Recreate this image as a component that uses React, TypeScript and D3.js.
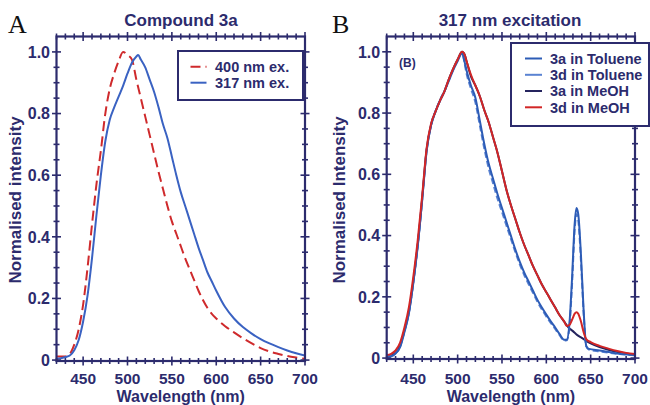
import React, { useEffect, useRef } from 'react';
import * as d3 from 'd3';

const WIDTH = 650;
const HEIGHT = 405;
const NAVY = '#2c2b6d';
const FONT = '"Liberation Sans", Arial, Helvetica, sans-serif';

// ---- Panel A: Compound 3a ----
const a400Wl = [420, 425, 430, 435, 440, 445, 450, 455, 460, 465, 470, 475, 480, 485, 490, 495, 500, 505, 510, 515, 520, 525, 530, 535, 540, 545, 550, 555, 560, 565, 570, 575, 580, 585, 590, 595, 600, 610, 620, 630, 640, 650, 660, 670, 680, 690, 700];
const a400Int = [0.012, 0.012, 0.012, 0.02, 0.05, 0.1, 0.18, 0.3, 0.44, 0.57, 0.68, 0.8, 0.88, 0.93, 0.97, 1.0, 0.99, 0.975, 0.91, 0.85, 0.79, 0.73, 0.67, 0.61, 0.555, 0.5, 0.45, 0.41, 0.37, 0.33, 0.295, 0.26, 0.225, 0.195, 0.17, 0.15, 0.135, 0.11, 0.09, 0.071, 0.054, 0.039, 0.028, 0.02, 0.013, 0.008, 0.004];

const a317Wl = [420, 425, 430, 435, 440, 445, 450, 455, 460, 465, 470, 475, 480, 485, 490, 495, 500, 505, 510, 512, 515, 520, 525, 530, 535, 540, 545, 550, 555, 560, 565, 570, 575, 580, 585, 590, 595, 600, 610, 620, 630, 640, 650, 660, 670, 680, 690, 700];
const a317Int = [0.004, 0.006, 0.01, 0.015, 0.032, 0.065, 0.125, 0.21, 0.33, 0.47, 0.6, 0.71, 0.78, 0.82, 0.855, 0.89, 0.93, 0.965, 0.985, 0.99, 0.975, 0.95, 0.91, 0.87, 0.82, 0.765, 0.72, 0.66, 0.6, 0.545, 0.5, 0.455, 0.41, 0.365, 0.325, 0.285, 0.255, 0.225, 0.172, 0.135, 0.107, 0.086, 0.068, 0.054, 0.042, 0.031, 0.022, 0.015];

// ---- Panel B: 317 nm excitation ----
const b3aTolWl = [420, 425, 430, 435, 440, 445, 450, 455, 460, 465, 470, 475, 480, 485, 490, 495, 500, 505, 508, 510, 515, 520, 525, 530, 535, 540, 545, 550, 555, 560, 565, 570, 575, 580, 585, 590, 595, 600, 605, 610, 615, 620, 623, 626, 629, 632, 634, 636, 639, 642, 645, 648, 660, 680, 700];
const b3aTolInt = [0.004, 0.006, 0.015, 0.035, 0.085, 0.145, 0.245, 0.365, 0.515, 0.675, 0.76, 0.805, 0.84, 0.87, 0.905, 0.94, 0.97, 0.995, 0.965, 0.94, 0.89, 0.85, 0.775, 0.7, 0.635, 0.585, 0.535, 0.49, 0.445, 0.4, 0.355, 0.315, 0.28, 0.25, 0.22, 0.19, 0.165, 0.142, 0.12, 0.1, 0.078, 0.06, 0.06, 0.11, 0.26, 0.44, 0.49, 0.47, 0.34, 0.16, 0.04, 0.03, 0.025, 0.015, 0.01];

const b3dTolWl = [420, 425, 430, 435, 440, 445, 450, 455, 460, 465, 470, 475, 480, 485, 490, 495, 500, 505, 508, 510, 515, 520, 525, 530, 535, 540, 545, 550, 555, 560, 565, 570, 575, 580, 585, 590, 595, 600, 605, 610, 615, 620, 623, 626, 629, 632, 634, 636, 639, 642, 645, 648, 660, 680, 700];
const b3dTolInt = [0.004, 0.007, 0.016, 0.037, 0.088, 0.148, 0.248, 0.368, 0.518, 0.678, 0.762, 0.806, 0.842, 0.872, 0.907, 0.942, 0.972, 0.997, 0.96, 0.93, 0.88, 0.835, 0.76, 0.685, 0.62, 0.57, 0.52, 0.477, 0.433, 0.39, 0.347, 0.307, 0.272, 0.242, 0.213, 0.184, 0.159, 0.136, 0.115, 0.095, 0.075, 0.057, 0.058, 0.1, 0.24, 0.42, 0.47, 0.45, 0.32, 0.15, 0.038, 0.028, 0.022, 0.014, 0.009];

const b3aMeohWl = [420, 425, 430, 435, 440, 445, 450, 455, 460, 465, 470, 475, 480, 485, 490, 495, 500, 505, 508, 510, 515, 520, 525, 530, 535, 540, 545, 550, 555, 560, 565, 570, 575, 580, 585, 590, 595, 600, 605, 610, 615, 620, 625, 630, 635, 640, 645, 650, 660, 670, 680, 690, 700];
const b3aMeohInt = [0.005, 0.008, 0.018, 0.04, 0.09, 0.15, 0.25, 0.37, 0.52, 0.68, 0.76, 0.805, 0.84, 0.87, 0.91, 0.945, 0.975, 1.0, 0.99, 0.97, 0.92, 0.89, 0.855, 0.81, 0.77, 0.72, 0.67, 0.61, 0.55, 0.5, 0.455, 0.41, 0.37, 0.335, 0.3, 0.27, 0.24, 0.215, 0.19, 0.165, 0.14, 0.12, 0.1, 0.088, 0.075, 0.066, 0.056, 0.048, 0.036, 0.027, 0.02, 0.015, 0.012];

const b3dMeohWl = [420, 425, 430, 435, 440, 445, 450, 455, 460, 465, 470, 475, 480, 485, 490, 495, 500, 505, 508, 510, 515, 520, 525, 530, 535, 540, 545, 550, 555, 560, 565, 570, 575, 580, 585, 590, 595, 600, 605, 610, 615, 620, 623, 626, 629, 632, 634, 636, 639, 642, 645, 650, 660, 670, 680, 690, 700];
const b3dMeohInt = [0.01, 0.014, 0.025, 0.05, 0.1, 0.165, 0.265, 0.385, 0.53, 0.685, 0.765, 0.805, 0.84, 0.87, 0.91, 0.945, 0.975, 1.0, 0.99, 0.97, 0.925, 0.89, 0.855, 0.81, 0.77, 0.72, 0.67, 0.61, 0.55, 0.5, 0.455, 0.41, 0.37, 0.335, 0.3, 0.27, 0.24, 0.215, 0.19, 0.165, 0.14, 0.12, 0.105, 0.108, 0.125, 0.145, 0.15, 0.145, 0.12, 0.085, 0.062, 0.052, 0.04, 0.031, 0.023, 0.017, 0.013];

// axis labels
const xTickLabels = [450, 500, 550, 600, 650, 700];
const yTickLabels = [0, 0.2, 0.4, 0.6, 0.8, 1.0];
const xDomain = [420, 700];
const yDomain = [-0.003, 1.05];

type Series = { wl: number[]; val: number[]; color: string; dash?: string; legendDash?: string; label: string };

const panels = [
  {
    left: 56.5, right: 305, top: 36.5, bottom: 361,
    letter: 'A', letterX: 8, title: 'Compound 3a', titleX: 181,
    yLabel: 'Normalised intensity', yLabelX: 15,
    series: [
      { wl: a400Wl, val: a400Int, color: '#cf2a2c', dash: '10,5', legendDash: '10,5', label: '400 nm ex.' },
      { wl: a317Wl, val: a317Int, color: '#3a62c2', label: '317 nm ex.' },
    ] as Series[],
    legend: { x: 178, y: 51, w: 125, h: 49, rows: [66.7, 82.7], lineX: 190.5, lineW: 16, textX: 215 },
    legendOrder: [0, 1],
    note: null as null | { text: string; x: number; y: number },
  },
  {
    left: 386.7, right: 635, top: 36.5, bottom: 359,
    letter: 'B', letterX: 332, title: '317 nm excitation', titleX: 510,
    yLabel: 'Normalised Intensity', yLabelX: 339,
    series: [
      { wl: b3aMeohWl, val: b3aMeohInt, color: '#25245e', label: '3a in MeOH' },
      { wl: b3dTolWl, val: b3dTolInt, color: '#5a83d2', dash: '6,3', label: '3d in Toluene' },
      { wl: b3aTolWl, val: b3aTolInt, color: '#2d5cb6', label: '3a in Toluene' },
      { wl: b3dMeohWl, val: b3dMeohInt, color: '#d22626', label: '3d in MeOH' },
    ] as Series[],
    legend: { x: 511, y: 43, w: 138, h: 83, rows: [58.5, 74.8, 91, 107.3], lineX: 525, lineW: 17, textX: 550 },
    legendOrder: [2, 1, 0, 3],
    note: { text: '(B)', x: 399, y: 67 },
  },
];

const App = () => {
  const svgRef = useRef<SVGSVGElement>(null);

  useEffect(() => {
    document.body.style.margin = '0';
    const svg = d3.select(svgRef.current);
    svg.selectAll('*').remove();

    panels.forEach((p, pi) => {
      const x = d3.scaleLinear().domain(xDomain).range([p.left, p.right]);
      const y = d3.scaleLinear().domain(yDomain).range([p.bottom, p.top]);
      const g = svg.append('g');

      // clip for the curves
      const clipId = `clip-${pi}`;
      svg.append('defs').append('clipPath').attr('id', clipId)
        .append('rect').attr('x', p.left).attr('y', p.top)
        .attr('width', p.right - p.left).attr('height', p.bottom - p.top);

      const curves = g.append('g').attr('clip-path', `url(#${clipId})`);
      p.series.forEach((s) => {
        const line = d3.line<number>()
          .x((_, i) => x(s.wl[i]))
          .y((d) => y(d))
          .curve(d3.curveMonotoneX);
        curves.append('path')
          .attr('d', line(s.val))
          .attr('fill', 'none')
          .attr('stroke', s.color)
          .attr('stroke-width', 2)
          .attr('stroke-dasharray', s.dash || null)
          .attr('stroke-linejoin', 'round');
      });

      // frame
      g.append('rect')
        .attr('x', p.left).attr('y', p.top)
        .attr('width', p.right - p.left).attr('height', p.bottom - p.top)
        .attr('fill', 'none').attr('stroke', NAVY).attr('stroke-width', 2.2);

      // ticks crossing the frame on all four sides
      const xt = d3.range(xDomain[0], xDomain[1] + 1, 10);
      const yt = d3.range(0, 21).map((i) => i * 0.05);
      const ticks = g.append('g').attr('stroke', NAVY).attr('stroke-width', 1.6);
      xt.forEach((v) => {
        const len = v % 50 === 0 ? 4.5 : 3;
        [p.top, p.bottom].forEach((yy) => {
          ticks.append('line').attr('x1', x(v)).attr('x2', x(v)).attr('y1', yy - len).attr('y2', yy + len);
        });
      });
      yt.forEach((v, i) => {
        const len = i % 4 === 0 ? 4.5 : 3;
        [p.left, p.right].forEach((xx) => {
          ticks.append('line').attr('y1', y(v)).attr('y2', y(v)).attr('x1', xx - len).attr('x2', xx + len);
        });
      });

      // tick labels
      g.selectAll('.xl').data(xTickLabels).join('text')
        .attr('x', (d) => x(d)).attr('y', 383.5)
        .attr('text-anchor', 'middle')
        .attr('font-family', FONT).attr('font-weight', 'bold').attr('font-size', 15.5)
        .attr('fill', NAVY).text((d) => d);
      g.selectAll('.yl').data(yTickLabels).join('text')
        .attr('x', p.left - 6.5).attr('y', (d) => y(d)).attr('dy', '0.36em')
        .attr('text-anchor', 'end')
        .attr('font-family', FONT).attr('font-weight', 'bold').attr('font-size', 16)
        .attr('fill', NAVY).text((d) => (d === 0 ? '0' : d3.format('.1f')(d)));

      // axis titles
      g.append('text')
        .attr('x', (p.left + p.right) / 2).attr('y', 402)
        .attr('text-anchor', 'middle')
        .attr('font-family', FONT).attr('font-weight', 'bold').attr('font-size', 16)
        .attr('fill', NAVY).text('Wavelength (nm)');
      g.append('text')
        .attr('transform', `translate(${p.yLabelX},200) rotate(-90)`)
        .attr('dy', '0.36em')
        .attr('text-anchor', 'middle')
        .attr('font-family', FONT).attr('font-weight', 'bold').attr('font-size', 17)
        .attr('fill', NAVY).text(p.yLabel);

      // panel title and letter
      g.append('text')
        .attr('x', p.titleX).attr('y', 26)
        .attr('text-anchor', 'middle')
        .attr('font-family', FONT).attr('font-weight', 'bold').attr('font-size', 17)
        .attr('fill', NAVY).text(p.title);
      g.append('text')
        .attr('x', p.letterX).attr('y', 33)
        .attr('font-family', '"Liberation Serif", "Times New Roman", serif').attr('font-size', 26)
        .attr('fill', '#111').text(p.letter);

      if (p.note) {
        g.append('text')
          .attr('x', p.note.x).attr('y', p.note.y)
          .attr('font-family', FONT).attr('font-weight', 'bold').attr('font-size', 12)
          .attr('fill', NAVY).text(p.note.text);
      }

      // legend
      const lg = g.append('g');
      lg.append('rect')
        .attr('x', p.legend.x).attr('y', p.legend.y)
        .attr('width', p.legend.w).attr('height', p.legend.h)
        .attr('fill', 'white').attr('stroke', NAVY).attr('stroke-width', 2);
      p.legendOrder.forEach((si, ri) => {
        const s = p.series[si];
        const ry = p.legend.rows[ri];
        lg.append('line')
          .attr('x1', p.legend.lineX).attr('x2', p.legend.lineX + p.legend.lineW)
          .attr('y1', ry).attr('y2', ry)
          .attr('stroke', s.color).attr('stroke-width', 2)
          .attr('stroke-dasharray', s.legendDash || null);
        lg.append('text')
          .attr('x', p.legend.textX).attr('y', ry).attr('dy', '0.36em')
          .attr('font-family', FONT).attr('font-weight', 'bold').attr('font-size', 14.5)
          .attr('fill', NAVY).text(s.label);
      });
    });
  }, []);

  return (
    <svg ref={svgRef} width={WIDTH} height={HEIGHT} style={{ display: 'block', background: 'white' }}></svg>
  );
};

export default App;
